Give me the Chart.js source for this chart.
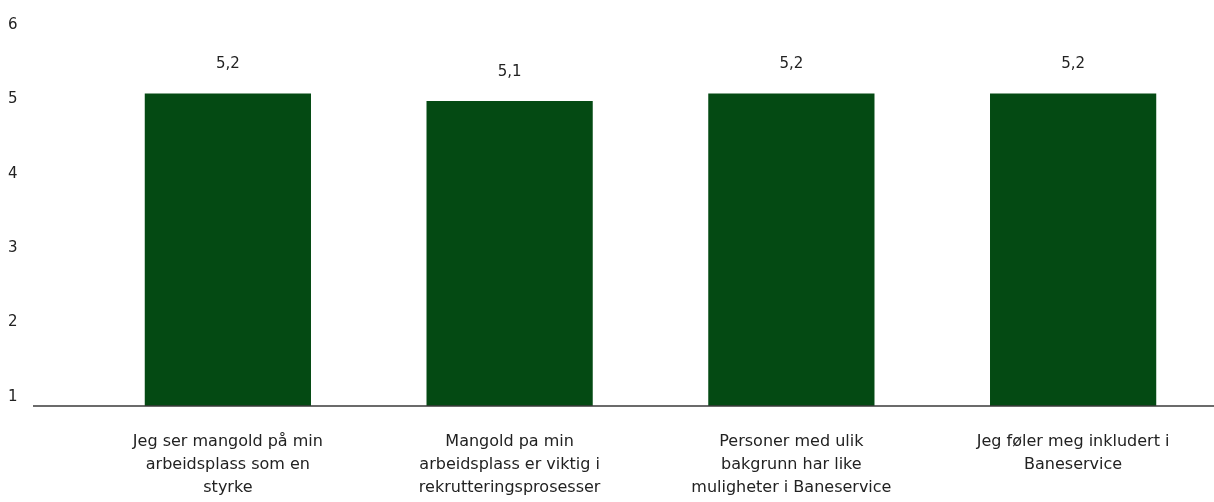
<!DOCTYPE html>
<html>
<head>
<meta charset="utf-8">
<script src="https://cdn.jsdelivr.net/npm/chart.js@4"></script>
<style>
  html, body { margin: 0; padding: 0; background: #fff; overflow: hidden; }
  #wrap { width: 1214px; height: 502px; position: relative; }
</style>
</head>
<body>
<div id="wrap"><canvas id="chart"></canvas></div>
<script>
const categories = [
    ["Jeg ser mangold på min", "arbeidsplass som en", "styrke"],
    ["Mangold pa min", "arbeidsplass er viktig i", "rekrutteringsprosesser"],
    ["Personer med ulik", "bakgrunn har like", "muligheter i Baneservice"],
    ["Jeg føler meg inkludert i", "Baneservice"]
];
const values = [5.2, 5.1, 5.2, 5.2];
const yTicks = [1, 2, 3, 4, 5, 6];

const fontFamily = "'DejaVu Sans', 'Open Sans', sans-serif";

// value labels above bars + baseline that runs past the y labels
const extras = {
    id: 'extras',
    afterDatasetsDraw(chart) {
        const { ctx, chartArea } = chart;
        const meta = chart.getDatasetMeta(0);
        ctx.save();
        ctx.strokeStyle = '#3a3a3a';
        ctx.lineWidth = 1.5;
        ctx.beginPath();
        ctx.moveTo(33, chartArea.bottom);
        ctx.lineTo(chart.width, chartArea.bottom);
        ctx.stroke();

        ctx.fillStyle = '#222';
        ctx.font = '15px ' + fontFamily;
        ctx.textAlign = 'center';
        ctx.textBaseline = 'middle';
        meta.data.forEach((bar, i) => {
            ctx.fillText(values[i].toFixed(1).replace('.', ','), bar.x, bar.y - 29);
        });
        ctx.restore();
    }
};

new Chart(document.getElementById('chart'), {
    type: 'bar',
    data: {
        labels: categories,
        datasets: [{
            data: values,
            backgroundColor: '#044a13',
            barPercentage: 0.59,
            categoryPercentage: 1
        }]
    },
    options: {
        responsive: true, maintainAspectRatio: false,
        animation: false,
        layout: { padding: { left: 8, right: 0, top: 34, bottom: -13 } },
        plugins: { legend: { display: false }, tooltip: { enabled: false } },
        scales: {
            x: {
                grid: { display: false },
                border: { display: false },
                ticks: {
                    color: '#222', font: { family: fontFamily, size: 16, lineHeight: 1.44 },
                    maxRotation: 0, autoSkip: false, padding: 16
                }
            },
            y: {
                min: 1, max: 6,
                afterFit(scale) { scale.width = 79; },
                afterBuildTicks(scale) { scale.ticks = yTicks.map(v => ({ value: v })); },
                grid: { display: false },
                border: { display: false },
                ticks: {
                    color: '#222', font: { family: fontFamily, size: 15 },
                    crossAlign: 'far', labelOffset: -9, padding: 0
                }
            }
        }
    },
    plugins: [extras]
});
</script>
</body>
</html>
